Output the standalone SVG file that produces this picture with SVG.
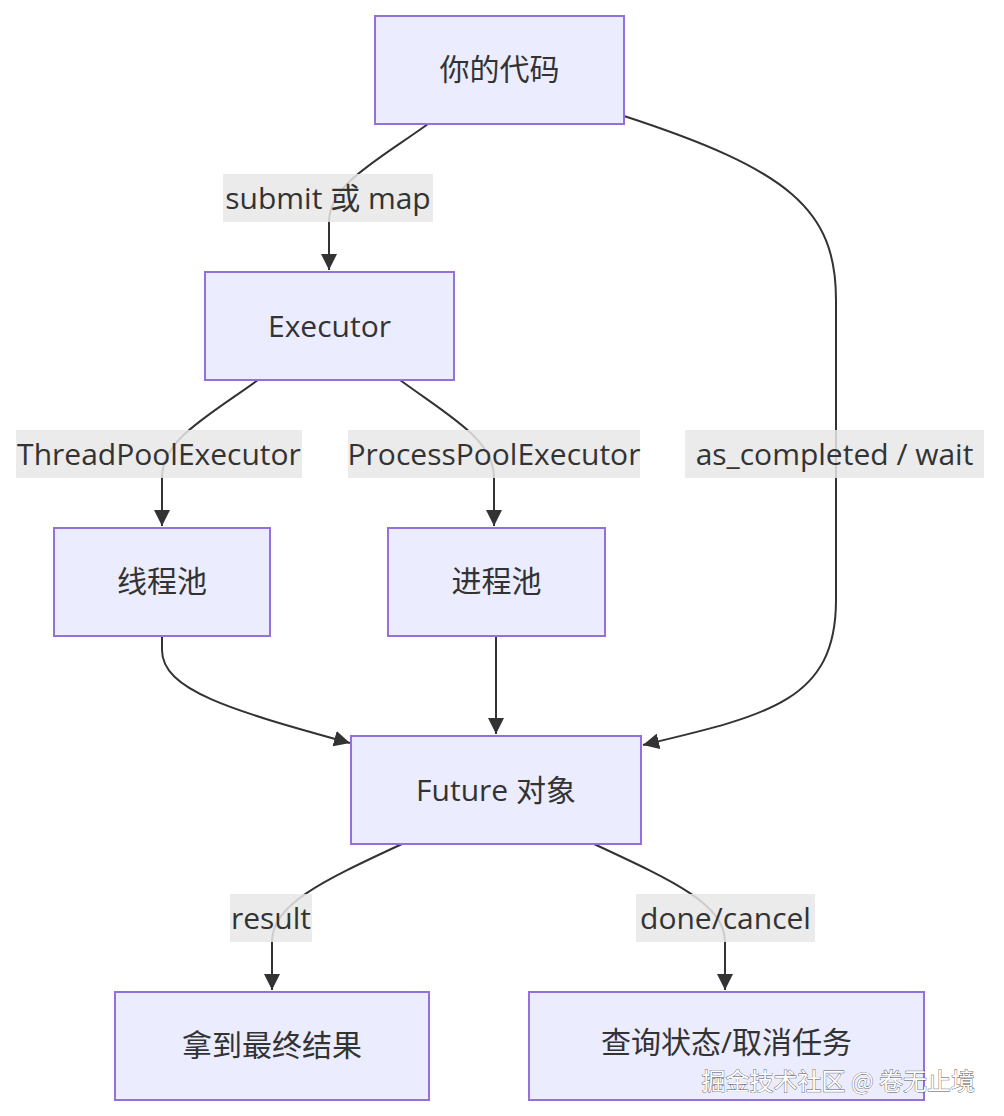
<svg xmlns="http://www.w3.org/2000/svg" width="1004" height="1116" viewBox="0 0 1004 1116">
<defs>
<style>
.node rect{fill:#ECECFF;stroke:#9370DB;stroke-width:2}
.node text{font-family:"Open Sans","Noto Sans CJK SC",sans-serif;font-size:30px;fill:#333;text-anchor:middle;dominant-baseline:central}
.edge{fill:none;stroke:#333;stroke-width:2;marker-end:url(#arrow)}
.lbl rect{fill:rgba(232,232,232,0.85)}
.lbl text{font-family:"Open Sans","Noto Sans CJK SC",sans-serif;font-size:30px;fill:#333;text-anchor:middle;dominant-baseline:central}
.wm{font-family:"Noto Sans CJK SC",sans-serif;font-size:24px;fill:#fff;stroke:#555;stroke-width:0.8;paint-order:stroke;text-anchor:end}
</style>
<marker id="arrow" viewBox="0 0 10 10" refX="10" refY="5" markerWidth="8" markerHeight="8" markerUnits="strokeWidth" orient="auto">
<path d="M0,0 L10,5 L0,10 z" fill="#333"/>
</marker>
</defs>
<rect width="1004" height="1116" fill="#fff"/>
<g id="connectors">
<path class="edge" d="M428,124 C375,162 329,185 329,222 L329,270"/>
<path class="edge" d="M624,116 C790,170 836,210 836,300 L836,600 C836,700 770,715 643,745"/>
<path class="edge" d="M258,380 C205,418 162,440 162,478 L162,526"/>
<path class="edge" d="M400,380 C452,418 494,440 494,478 L494,526"/>
<path class="edge" d="M162,636 L162,650 C162,690 230,710 350,743"/>
<path class="edge" d="M496,636 L496,734"/>
<path class="edge" d="M402,844 C320,882 272,905 272,942 L272,990"/>
<path class="edge" d="M594,844 C676,882 725,905 725,942 L725,990"/>
</g>
<g id="edge-labels">
<g class="lbl"><rect x="223" y="174" width="210" height="48"/><text x="328" y="197">submit 或 map</text></g>
<g class="lbl"><rect x="16" y="430" width="286" height="48"/><text x="159" y="453">ThreadPoolExecutor</text></g>
<g class="lbl"><rect x="348" y="430" width="292" height="48"/><text x="494" y="453">ProcessPoolExecutor</text></g>
<g class="lbl"><rect x="685" y="430" width="299" height="48"/><text x="834.5" y="453">as_completed / wait</text></g>
<g class="lbl"><rect x="230" y="894" width="82" height="48"/><text x="271" y="917">result</text></g>
<g class="lbl"><rect x="636" y="894" width="179" height="48"/><text x="725.5" y="917">done/cancel</text></g>
</g>
<g id="node-code" class="node"><rect x="375" y="16" width="249" height="108"/><text x="499.5" y="68">你的代码</text></g>
<g id="node-executor" class="node"><rect x="205" y="272" width="249" height="108"/><text x="329.5" y="325">Executor</text></g>
<g id="node-thread" class="node"><rect x="54" y="528" width="216" height="108"/><text x="162" y="580">线程池</text></g>
<g id="node-process" class="node"><rect x="388" y="528" width="217" height="108"/><text x="496.5" y="580">进程池</text></g>
<g id="node-future" class="node"><rect x="351" y="736" width="290" height="108"/><text x="496" y="789">Future 对象</text></g>
<g id="node-result" class="node"><rect x="115" y="992" width="314" height="108"/><text x="272" y="1044">拿到最终结果</text></g>
<g id="node-query" class="node"><rect x="529" y="992" width="395" height="108"/><text x="726.5" y="1041">查询状态/取消任务</text></g>
<text class="wm" x="975" y="1090">掘金技术社区 @ 卷无止境</text>
</svg>
